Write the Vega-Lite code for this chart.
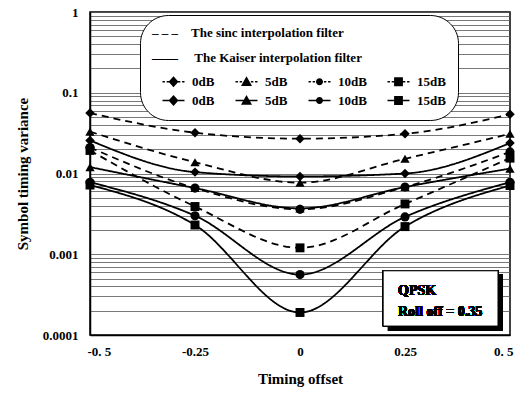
{
  "$schema": "https://vega.github.io/schema/vega-lite/v6.json",
  "width": 420,
  "height": 323,
  "autosize": "none",
  "padding": {"left": 90, "top": 12, "right": 11, "bottom": 62},
  "background": "white",
  "config": {
    "view": {"stroke": "black", "strokeWidth": 1.5},
    "font": "Liberation Serif",
    "axis": {
      "labelFont": "Liberation Serif",
      "labelFontSize": 13,
      "labelFontWeight": "bold",
      "labelColor": "black",
      "titleFont": "Liberation Serif",
      "titleFontSize": 15,
      "titleFontWeight": "bold",
      "titleColor": "black",
      "domainColor": "black",
      "domainWidth": 1.5,
      "ticks": false
    }
  },
  "data": {
    "values": [
      {"filter": "sinc", "snr": "0dB", "series": "sinc 0dB", "x": -0.5, "y": 0.056},
      {"filter": "sinc", "snr": "0dB", "series": "sinc 0dB", "x": -0.25, "y": 0.032},
      {"filter": "sinc", "snr": "0dB", "series": "sinc 0dB", "x": 0, "y": 0.027},
      {"filter": "sinc", "snr": "0dB", "series": "sinc 0dB", "x": 0.25, "y": 0.031},
      {"filter": "sinc", "snr": "0dB", "series": "sinc 0dB", "x": 0.5, "y": 0.054},
      {"filter": "sinc", "snr": "5dB", "series": "sinc 5dB", "x": -0.5, "y": 0.033},
      {"filter": "sinc", "snr": "5dB", "series": "sinc 5dB", "x": -0.25, "y": 0.0138},
      {"filter": "sinc", "snr": "5dB", "series": "sinc 5dB", "x": 0, "y": 0.0077},
      {"filter": "sinc", "snr": "5dB", "series": "sinc 5dB", "x": 0.25, "y": 0.0152},
      {"filter": "sinc", "snr": "5dB", "series": "sinc 5dB", "x": 0.5, "y": 0.031},
      {"filter": "sinc", "snr": "10dB", "series": "sinc 10dB", "x": -0.5, "y": 0.021},
      {"filter": "sinc", "snr": "10dB", "series": "sinc 10dB", "x": -0.25, "y": 0.0066},
      {"filter": "sinc", "snr": "10dB", "series": "sinc 10dB", "x": 0, "y": 0.0036},
      {"filter": "sinc", "snr": "10dB", "series": "sinc 10dB", "x": 0.25, "y": 0.0068},
      {"filter": "sinc", "snr": "10dB", "series": "sinc 10dB", "x": 0.5, "y": 0.0185},
      {"filter": "sinc", "snr": "15dB", "series": "sinc 15dB", "x": -0.5, "y": 0.0193},
      {"filter": "sinc", "snr": "15dB", "series": "sinc 15dB", "x": -0.25, "y": 0.0039},
      {"filter": "sinc", "snr": "15dB", "series": "sinc 15dB", "x": 0, "y": 0.0012},
      {"filter": "sinc", "snr": "15dB", "series": "sinc 15dB", "x": 0.25, "y": 0.0042},
      {"filter": "sinc", "snr": "15dB", "series": "sinc 15dB", "x": 0.5, "y": 0.0155},
      {"filter": "kaiser", "snr": "0dB", "series": "kaiser 0dB", "x": -0.5, "y": 0.0257},
      {"filter": "kaiser", "snr": "0dB", "series": "kaiser 0dB", "x": -0.25, "y": 0.0104},
      {"filter": "kaiser", "snr": "0dB", "series": "kaiser 0dB", "x": 0, "y": 0.0092},
      {"filter": "kaiser", "snr": "0dB", "series": "kaiser 0dB", "x": 0.25, "y": 0.0100},
      {"filter": "kaiser", "snr": "0dB", "series": "kaiser 0dB", "x": 0.5, "y": 0.0238},
      {"filter": "kaiser", "snr": "5dB", "series": "kaiser 5dB", "x": -0.5, "y": 0.012},
      {"filter": "kaiser", "snr": "5dB", "series": "kaiser 5dB", "x": -0.25, "y": 0.0066},
      {"filter": "kaiser", "snr": "5dB", "series": "kaiser 5dB", "x": 0, "y": 0.0037},
      {"filter": "kaiser", "snr": "5dB", "series": "kaiser 5dB", "x": 0.25, "y": 0.0068},
      {"filter": "kaiser", "snr": "5dB", "series": "kaiser 5dB", "x": 0.5, "y": 0.0115},
      {"filter": "kaiser", "snr": "10dB", "series": "kaiser 10dB", "x": -0.5, "y": 0.0078},
      {"filter": "kaiser", "snr": "10dB", "series": "kaiser 10dB", "x": -0.25, "y": 0.003},
      {"filter": "kaiser", "snr": "10dB", "series": "kaiser 10dB", "x": 0, "y": 0.00056},
      {"filter": "kaiser", "snr": "10dB", "series": "kaiser 10dB", "x": 0.25, "y": 0.0029},
      {"filter": "kaiser", "snr": "10dB", "series": "kaiser 10dB", "x": 0.5, "y": 0.0078},
      {"filter": "kaiser", "snr": "15dB", "series": "kaiser 15dB", "x": -0.5, "y": 0.0072},
      {"filter": "kaiser", "snr": "15dB", "series": "kaiser 15dB", "x": -0.25, "y": 0.0023},
      {"filter": "kaiser", "snr": "15dB", "series": "kaiser 15dB", "x": 0, "y": 0.00019},
      {"filter": "kaiser", "snr": "15dB", "series": "kaiser 15dB", "x": 0.25, "y": 0.0022},
      {"filter": "kaiser", "snr": "15dB", "series": "kaiser 15dB", "x": 0.5, "y": 0.0071}
    ]
  },
  "layer": [
    {
      "mark": {"type": "line", "interpolate": "monotone", "color": "black", "strokeWidth": 1.8},
      "encoding": {
        "x": {
          "field": "x", "type": "quantitative",
          "scale": {"domain": [-0.5, 0.5], "nice": false, "zero": false},
          "axis": {
            "values": [-0.5, -0.25, 0, 0.25, 0.5],
            "labelExpr": "datum.value == -0.5 ? '-0. 5' : datum.value == -0.25 ? '-0.25' : datum.value == 0 ? '0' : datum.value == 0.25 ? '0.25' : '0. 5'",
            "grid": false,
            "labelFlush": true,
            "labelFlushOffset": 3,
            "labelPadding": 10,
            "title": "Timing offset",
            "titlePadding": 13
          }
        },
        "y": {
          "field": "y", "type": "quantitative",
          "scale": {"type": "log", "domain": [0.0001, 1], "nice": false},
          "axis": {
            "values": [0.0001,0.0002,0.0003,0.0004,0.0005,0.0006,0.0007,0.0008,0.0009,0.001,0.002,0.003,0.004,0.005,0.006,0.007,0.008,0.009,0.01,0.02,0.03,0.04,0.05,0.06,0.07,0.08,0.09,0.1,0.2,0.3,0.4,0.5,0.6,0.7,0.8,0.9,1],
            "labelExpr": "datum.value == 1 ? '1' : datum.value == 0.1 ? '0.1' : datum.value == 0.01 ? '0.01' : datum.value == 0.001 ? '0.001' : datum.value == 0.0001 ? '0.0001' : ''",
            "labelOverlap": false,
            "labelFlush": false,
            "labelPadding": 12,
            "grid": true,
            "gridColor": "#555555",
            "gridWidth": 0.8,
            "title": "Symbol timing variance",
            "titlePadding": 12
          }
        },
        "detail": {"field": "series", "type": "nominal"},
        "strokeDash": {
          "field": "filter", "type": "nominal",
          "scale": {"domain": ["sinc", "kaiser"], "range": [[7, 5], [1, 0]]},
          "legend": null
        }
      }
    },
    {
      "mark": {"type": "point", "filled": true, "color": "black", "opacity": 1},
      "encoding": {
        "x": {"field": "x", "type": "quantitative"},
        "y": {"field": "y", "type": "quantitative"},
        "shape": {
          "field": "snr", "type": "nominal",
          "scale": {"domain": ["0dB", "5dB", "10dB", "15dB"], "range": ["diamond", "triangle-up", "circle", "square"]},
          "legend": null
        },
        "size": {
          "field": "snr", "type": "nominal",
          "scale": {"domain": ["0dB", "5dB", "10dB", "15dB"], "range": [90, 80, 36, 64]},
          "legend": null
        }
      }
    },
    {
      "mark": {"type": "point", "filled": true, "color": "black", "opacity": 0},
      "encoding": {
        "x": {"field": "x", "type": "quantitative"},
        "y": {"field": "y", "type": "quantitative"},
        "shape": {
          "field": "series", "type": "nominal",
          "scale": {
            "domain": ["sinc 0dB", "sinc 5dB", "sinc 10dB", "sinc 15dB", "kaiser 0dB", "kaiser 5dB", "kaiser 10dB", "kaiser 15dB"],
            "range": [
              "M-1,-0.07L-0.78,-0.07L-0.78,0.07L-1,0.07ZM-0.62,-0.07L-0.4,-0.07L-0.4,0.07L-0.62,0.07ZM0.4,-0.07L0.62,-0.07L0.62,0.07L0.4,0.07ZM0.78,-0.07L1,-0.07L1,0.07L0.78,0.07ZM0,-0.5L0.45,0L0,0.5L-0.45,0Z",
              "M-1,-0.07L-0.78,-0.07L-0.78,0.07L-1,0.07ZM-0.62,-0.07L-0.4,-0.07L-0.4,0.07L-0.62,0.07ZM0.4,-0.07L0.62,-0.07L0.62,0.07L0.4,0.07ZM0.78,-0.07L1,-0.07L1,0.07L0.78,0.07ZM0,-0.5L0.5,0.38L-0.5,0.38Z",
              "M-1,-0.07L-0.78,-0.07L-0.78,0.07L-1,0.07ZM-0.62,-0.07L-0.4,-0.07L-0.4,0.07L-0.62,0.07ZM0.4,-0.07L0.62,-0.07L0.62,0.07L0.4,0.07ZM0.78,-0.07L1,-0.07L1,0.07L0.78,0.07ZM-0.32,0A0.32,0.32,0,1,1,0.32,0A0.32,0.32,0,1,1,-0.32,0Z",
              "M-1,-0.07L-0.78,-0.07L-0.78,0.07L-1,0.07ZM-0.62,-0.07L-0.4,-0.07L-0.4,0.07L-0.62,0.07ZM0.4,-0.07L0.62,-0.07L0.62,0.07L0.4,0.07ZM0.78,-0.07L1,-0.07L1,0.07L0.78,0.07ZM-0.4,-0.4L0.4,-0.4L0.4,0.4L-0.4,0.4Z",
              "M-1,-0.07L1,-0.07L1,0.07L-1,0.07ZM0,-0.5L0.45,0L0,0.5L-0.45,0Z",
              "M-1,-0.07L1,-0.07L1,0.07L-1,0.07ZM0,-0.5L0.5,0.38L-0.5,0.38Z",
              "M-1,-0.07L1,-0.07L1,0.07L-1,0.07ZM-0.32,0A0.32,0.32,0,1,1,0.32,0A0.32,0.32,0,1,1,-0.32,0Z",
              "M-1,-0.07L1,-0.07L1,0.07L-1,0.07ZM-0.4,-0.4L0.4,-0.4L0.4,0.4L-0.4,0.4Z"
            ]
          },
          "legend": {
            "orient": "none",
            "legendX": 50,
            "legendY": 3,
            "direction": "horizontal",
            "columns": 4,
            "title": ["\u00a0\u00a0\u00a0\u00a0\u00a0\u00a0\u2013 \u2013 \u2013\u00a0\u00a0\u00a0\u00a0The sinc interpolation filter", "\u00a0\u00a0\u00a0\u00a0\u00a0\u00a0\u2014\u2014\u00a0\u00a0\u00a0\u00a0\u00a0The Kaiser interpolation filter"],
            "titleFont": "Liberation Serif",
            "titleFontSize": 13,
            "titleFontWeight": "bold",
            "titleColor": "black",
            "titleLineHeight": 25,
            "titlePadding": 5,
            "titleLimit": 400,
            "labelExpr": "split(datum.label, ' ')[1]",
            "labelFont": "Liberation Serif",
            "labelFontSize": 13,
            "labelFontWeight": "bold",
            "labelColor": "black",
            "labelOffset": 7,
            "symbolSize": 484,
            "symbolOffset": 10,
            "symbolFillColor": "black",
            "symbolStrokeColor": "black",
            "symbolStrokeWidth": 0.5,
            "columnPadding": 10,
            "rowPadding": -2,
            "padding": 12,
            "strokeColor": "black",
            "fillColor": "white",
            "cornerRadius": 28,
            "encode": {
              "symbols": {
                "fill": {"value": "black"},
                "opacity": {"value": 1}
              }
            }
          }
        }
      }
    },
    {
      "mark": {"type": "rect", "color": "black"},
      "encoding": {
        "x": {"datum": 0.2095, "type": "quantitative"},
        "x2": {"datum": 0.4833},
        "y": {"datum": 0.000556, "type": "quantitative"},
        "y2": {"datum": 0.0001122}
      }
    },
    {
      "mark": {"type": "rect", "fill": "white", "stroke": "black", "strokeWidth": 1},
      "encoding": {
        "x": {"datum": 0.198, "type": "quantitative"},
        "x2": {"datum": 0.4714},
        "y": {"datum": 0.000624, "type": "quantitative"},
        "y2": {"datum": 0.000129}
      }
    },
    {
      "mark": {"type": "text", "align": "left", "baseline": "middle", "font": "Liberation Serif", "fontSize": 14, "fontWeight": "bold", "color": "black", "lineHeight": 21, "text": ["QPSK", "Roll off = 0.35"]},
      "encoding": {
        "x": {"datum": 0.2333, "type": "quantitative"},
        "y": {"datum": 0.000352, "type": "quantitative"}
      }
    }
  ],
  "resolve": {"scale": {"shape": "independent", "size": "independent"}}
}
